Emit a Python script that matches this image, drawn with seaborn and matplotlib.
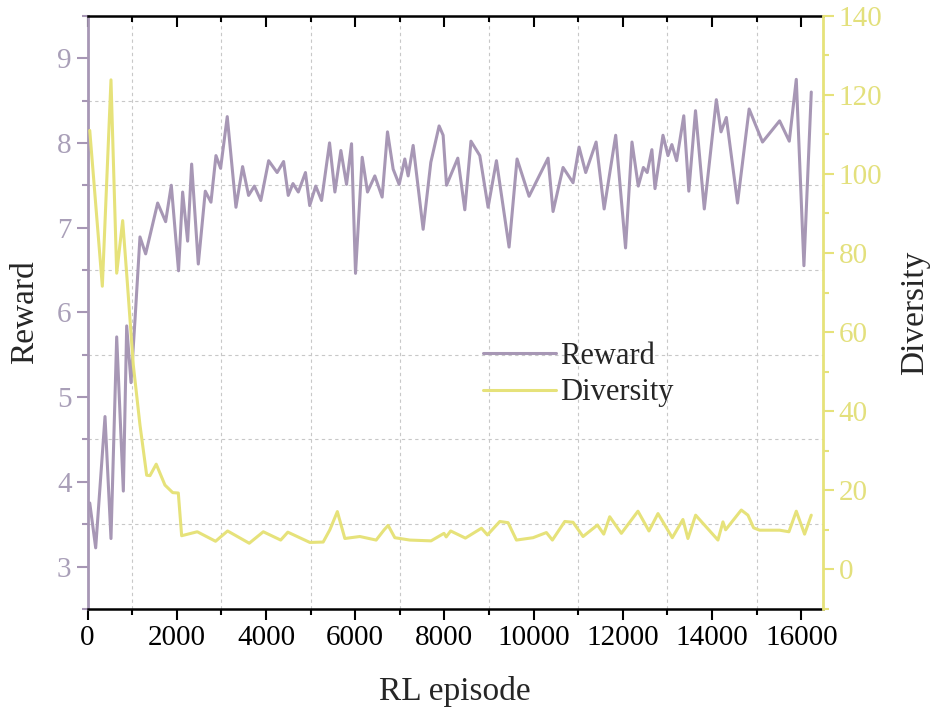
import numpy as np
import pandas as pd
import seaborn as sns
import matplotlib.pyplot as plt
from matplotlib.ticker import MultipleLocator

# values
reward_ep = [50, 183, 392, 526, 654, 803, 878, 975, 1064, 1176, 1303, 1572, 1751, 1878,
             2040, 2132, 2244, 2334, 2483, 2640, 2767, 2879, 2983, 3132, 3327, 3476, 3610,
             3740, 3884, 4060, 4250, 4395, 4499, 4605, 4725, 4885, 4980, 5115, 5246, 5425,
             5545, 5679, 5806, 5918, 6007, 6157, 6276, 6440, 6604, 6724, 6851, 6985, 7112,
             7187, 7299, 7523, 7695, 7881, 7971, 8047, 8300, 8457, 8595, 8793, 8979, 9166,
             9449, 9628, 9897, 10323, 10435, 10659, 10883, 11018, 11167, 11400, 11580, 11839,
             12060, 12204, 12345, 12460, 12545, 12650, 12720, 12899, 13011, 13098, 13205,
             13365, 13478, 13628, 13825, 14095, 14200, 14319, 14570, 14830, 15130, 15513,
             15730, 15887, 16058, 16223]
reward = [3.75, 3.22, 4.77, 3.33, 5.71, 3.89, 5.84, 5.17, 5.91, 6.89, 6.69, 7.29, 7.07, 7.50,
          6.49, 7.42, 6.84, 7.75, 6.57, 7.43, 7.30, 7.85, 7.70, 8.31, 7.24, 7.72, 7.38,
          7.49, 7.32, 7.79, 7.65, 7.78, 7.38, 7.52, 7.42, 7.65, 7.26, 7.49, 7.32, 8.00,
          7.42, 7.91, 7.51, 7.99, 6.46, 7.83, 7.42, 7.61, 7.36, 8.13, 7.69, 7.51, 7.81,
          7.61, 7.97, 6.98, 7.77, 8.20, 8.09, 7.50, 7.82, 7.21, 8.02, 7.85, 7.24, 7.79,
          6.77, 7.81, 7.37, 7.82, 7.19, 7.71, 7.53, 7.95, 7.65, 8.01, 7.22, 8.09,
          6.76, 8.01, 7.49, 7.71, 7.65, 7.92, 7.46, 8.09, 7.85, 7.98, 7.79,
          8.32, 7.43, 8.38, 7.22, 8.51, 8.13, 8.30, 7.29, 8.40, 8.01, 8.26,
          8.02, 8.75, 6.55, 8.60]

div_ep = [50, 332, 526, 654, 788, 892, 1026, 1176, 1326, 1400, 1540, 1736, 1910, 2035,
          2110, 2460, 2870, 3140, 3625, 3940, 4330, 4490, 4984, 5282, 5432, 5600, 5768,
          6104, 6470, 6649, 6739, 6888, 7225, 7700, 7990, 8040, 8140, 8470, 8830, 8964,
          9241, 9427, 9614, 9987, 10286, 10420, 10697, 10883, 11107, 11429, 11571, 11705,
          11966, 12338, 12585, 12787, 13108, 13346, 13458, 13631, 14131, 14243, 14303,
          14654, 14803, 14930, 15065, 15513, 15722, 15887, 16073, 16223]
diversity = [111.0, 71.6, 123.8, 74.9, 88.2, 72.6, 51.7, 36.5, 23.8, 23.7, 26.6, 21.3, 19.4,
             19.3, 8.5, 9.5, 7.1, 9.7, 6.6, 9.5, 7.4, 9.4, 6.8, 6.9, 10.0, 14.6, 7.8,
             8.3, 7.4, 10.0, 11.1, 8.0, 7.4, 7.2, 9.1, 8.2, 9.7, 7.9, 10.4, 8.7,
             12.1, 11.8, 7.4, 8.0, 9.3, 7.4, 12.1, 11.9, 8.3, 11.2, 8.9, 13.3,
             9.1, 14.7, 9.7, 14.1, 8.0, 12.6, 7.8, 13.7, 7.4, 12.0, 10.0,
             15.0, 13.7, 10.5, 9.9, 9.9, 9.5, 14.7, 8.9, 13.7]

purple = '#a797b5'
yellow = '#e6e27a'
tick_purple = '#a99fb8'
tick_yellow = '#e3e07c'

sns.set_style('ticks')
plt.rcParams['font.family'] = ['Liberation Serif', 'DejaVu Serif']

df_r = pd.DataFrame({'episode': reward_ep, 'Reward': reward})
df_d = pd.DataFrame({'episode': div_ep, 'Diversity': diversity})

fig = plt.figure(figsize=(9.36, 7.18), dpi=100)
ax = fig.add_axes([0.0935, 0.152, 0.7855, 0.826])
ax2 = ax.twinx()

sns.lineplot(data=df_r, x='episode', y='Reward', ax=ax, color=purple, lw=2.2, label='Reward',
             legend=False, solid_joinstyle='round')
sns.lineplot(data=df_d, x='episode', y='Diversity', ax=ax2, color=yellow, lw=2.2, label='Diversity',
             legend=False, solid_joinstyle='round')

ax.set_xlim(0, 16480)
ax.set_ylim(2.5, 9.5)
ax2.set_ylim(-10, 140)

ax.xaxis.set_major_locator(MultipleLocator(2000))
ax.xaxis.set_minor_locator(MultipleLocator(1000))
ax.yaxis.set_major_locator(MultipleLocator(1))
ax.yaxis.set_minor_locator(MultipleLocator(0.5))
ax2.yaxis.set_major_locator(MultipleLocator(20))
ax2.yaxis.set_minor_locator(MultipleLocator(10))

# dashed grid on minor positions, like the original
for xv in range(1000, 16000, 2000):
    ax.axvline(xv, color='#c8c8c8', ls=(0, (3, 3)), lw=0.8, zorder=0)
for yv in [3.5, 4.5, 5.5, 6.5, 7.5, 8.5]:
    ax.axhline(yv, color='#c8c8c8', ls=(0, (3, 3)), lw=0.8, zorder=0)

ax.tick_params(axis='x', which='both', direction='out', top=True, labelsize=21, colors='black', width=1.5)
ax.tick_params(axis='x', which='major', length=8)
ax.tick_params(axis='x', which='minor', length=4)
ax.tick_params(axis='y', which='both', direction='out', labelsize=21, color=purple, labelcolor=tick_purple, width=1.5)
ax.tick_params(axis='y', which='major', length=8)
ax.tick_params(axis='y', which='minor', length=4)
ax2.tick_params(axis='y', which='both', direction='out', labelsize=21, color=yellow, labelcolor=tick_yellow, width=1.5)
ax2.tick_params(axis='y', which='major', length=8)
ax2.tick_params(axis='y', which='minor', length=4)
ax2.tick_params(axis='x', which='both', top=False)
# top ticks point inward
for t in ax.xaxis.get_major_ticks() + ax.xaxis.get_minor_ticks():
    t.tick2line.set_marker(3)

for s in ['top', 'bottom']:
    ax.spines[s].set_linewidth(1.8)
    ax.spines[s].set_color('black')
ax.spines['left'].set_color(purple)
ax.spines['left'].set_linewidth(2)
ax2.spines['left'].set_visible(False)
ax2.spines['right'].set_color(yellow)
ax2.spines['right'].set_linewidth(2)
ax2.spines['top'].set_visible(False)
ax2.spines['bottom'].set_visible(False)
ax.spines['right'].set_visible(False)

ax.set_xlabel('RL episode', fontsize=24, labelpad=18)
ax.set_ylabel('Reward', fontsize=24, labelpad=12)
ax2.set_ylabel('Diversity', fontsize=24, labelpad=12)

h1, l1 = ax.get_legend_handles_labels()
h2, l2 = ax2.get_legend_handles_labels()
ax.legend(h1 + h2, l1 + l2, loc='center left', bbox_to_anchor=(0.50, 0.395), frameon=False,
          fontsize=22, handlelength=2.4, handletextpad=0.15, labelspacing=0.25)

plt.savefig('out.png', dpi=100)
